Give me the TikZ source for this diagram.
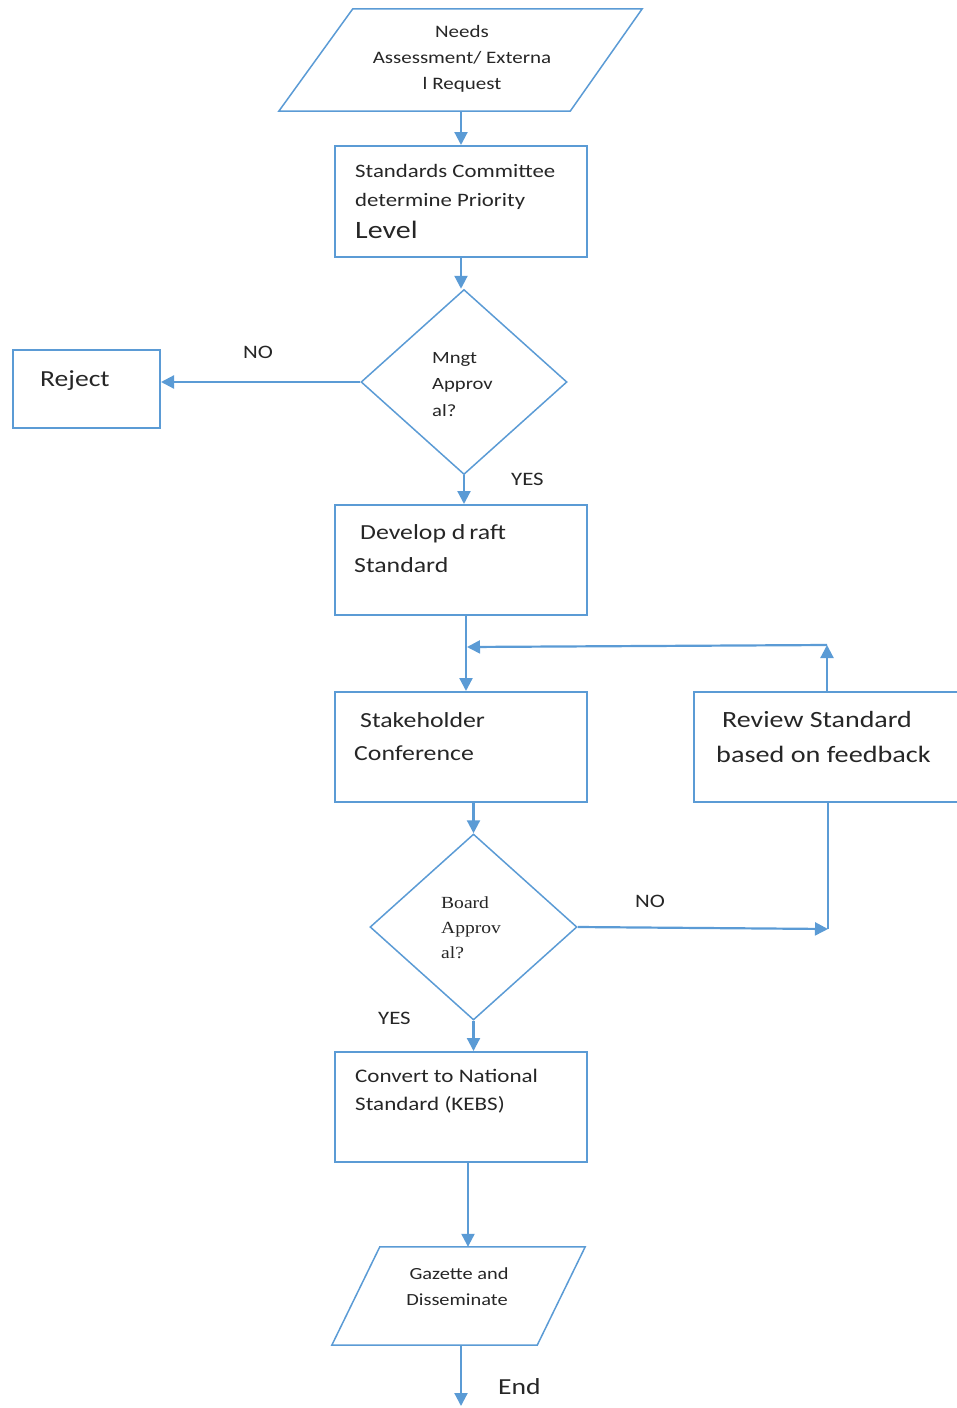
\documentclass[tikz,border=0pt]{standalone}
\usepackage{fontspec}
\setmainfont{Carlito}[FakeStretch=1.2]
\newfontfamily\serifw{Liberation Serif}[FakeStretch=1.15]
\usetikzlibrary{shapes.geometric,arrows.meta}
\definecolor{lb}{RGB}{91,155,213}
\definecolor{tx}{RGB}{38,38,38}
\begin{document}
\begin{tikzpicture}[x=1pt,y=-1pt,
  box/.style={draw=lb,line width=2pt,minimum width=252pt,minimum height=110pt,inner sep=0pt},
  dia/.style={diamond,draw=lb,line width=1.5pt,inner sep=0pt},
  frame/.style={inner sep=0pt},
  pl/.style={draw=lb,line width=1.5pt,line join=miter},
  t/.style={text=tx,inner sep=0pt,anchor=base west},
  tc/.style={text=tx,inner sep=0pt,anchor=base},
  fs/.style={font=\fontsize{#1}{#1}\selectfont},
  arr/.style={draw=lb,line width=2.2pt,-{Triangle[length=13pt,width=13pt]}},
  ln/.style={draw=lb,line width=2.2pt}]
\useasboundingbox (0,0) rectangle (956,1408);

% shapes
\node[frame,minimum width=363pt,minimum height=102pt] (top) at (460.5,60) {};
\draw[pl] ([xshift=74pt]top.north west) -- (top.north east) -- ([xshift=-72pt]top.south east) -- (top.south west) -- cycle;
\node[box,minimum height=111pt] (box1) at (461,201.5) {};
\node[dia,minimum width=206pt,minimum height=185pt] (d1) at (464,382) {};
\node[box,minimum width=147pt,minimum height=78pt] (reject) at (86.5,389) {};
\node[box] (dev) at (461,560) {};
\node[box] (stake) at (461,747) {};
\node[box,minimum width=266pt] (review) at (827,747) {};
\node[dia,minimum width=207pt,minimum height=186pt] (d2) at (473.5,927) {};
\node[box] (conv) at (461,1107) {};
\node[frame,minimum width=253pt,minimum height=98pt] (gaz) at (458.5,1296) {};
\draw[pl] ([xshift=48pt]gaz.north west) -- (gaz.north east) -- ([xshift=-48pt]gaz.south east) -- (gaz.south west) -- cycle;

% texts
\node[tc,fs=17.5] (t1a) at (462,37) {Needs};
\node[tc,fs=17.5] (t1b) at (462,63) {Assessment/ Externa};
\node[tc,fs=17.5] (t1c) at (462,89) {l Request};
\node[t,fs=19] (t2a) at (355,177) {Standards Committee};
\node[t,fs=19] (t2b) at (355,206) {determine Priority};
\node[t,fs=25] (t2c) at (355,238) {Level};
\node[t,fs=17.2] (t3a) at (432,363) {Mngt};
\node[t,fs=17.2] (t3b) at (432,389) {Approv};
\node[t,fs=17.2] (t3c) at (432,416) {al?};
\node[t,fs=19] (no1) at (243,358) {NO};
\node[t,fs=23] (t4) at (40,386) {Reject};
\node[t,fs=19] (yes1) at (511,485) {YES};
\node[t,fs=21.5] (t5a) at (360,539) {Develop d\hspace{-2pt} raft};
\node[t,fs=21.5] (t5b) at (354,572) {Standard};
\node[t,fs=21.5] (t6a) at (360,727) {Stakeholder};
\node[t,fs=21.5] (t6b) at (354,760) {Conference};
\node[t,fs=23.3] (t7a) at (722,727) {Review Standard};
\node[t,fs=23.5] (t7b) at (716,762) {based on feedback};
\node[t,font=\fontsize{17}{17}\serifw] (t8a) at (441,908) {Board};
\node[t,font=\fontsize{17}{17}\serifw] (t8b) at (441,933) {Approv};
\node[t,font=\fontsize{17}{17}\serifw] (t8c) at (441,958) {al?};
\node[t,fs=19] (no2) at (635,907) {NO};
\node[t,fs=19] (yes2) at (378,1024) {YES};
\node[t,fs=19.2] (t9a) at (355,1082) {Convert to National};
\node[t,fs=19.2] (t9b) at (355,1110) {Standard (KEBS)};
\node[tc,fs=17] (t10a) at (459,1279) {Gazette and};
\node[tc,fs=17] (t10b) at (457,1305) {Disseminate};
\node[t,fs=23] (tend) at (498,1394) {End};

% connector points
\coordinate (j) at (467,647);
\coordinate (rc) at (827,645);
\coordinate (nc) at (828,929);
\coordinate (endc) at (461,1406);

% connectors
\draw[arr] (box1.north |- top.south) -- (box1.north);
\draw[arr] (box1.south) -- (box1.south |- d1.north);
\draw[arr] (d1.west) -- (d1.west -| reject.east);
\draw[arr] (d1.south) -- (d1.south |- dev.north);
\draw[arr] ([xshift=5pt]dev.south) -- ([xshift=5pt]stake.north);
\draw[arr] (review.north) -- (rc);
\draw[arr] (rc) -- (j);
\draw[arr] (d2.north |- stake.south) -- (d2.north);
\draw[ln] (review.south -| nc) -- (nc);
\draw[arr] (d2.east) -- (nc);
\draw[arr] (d2.south) -- (d2.south |- conv.north);
\draw[arr] ([xshift=7pt]conv.south) -- ([xshift=7pt]conv.south |- gaz.north);
\draw[arr] (endc |- gaz.south) -- (endc);
\end{tikzpicture}
\end{document}
